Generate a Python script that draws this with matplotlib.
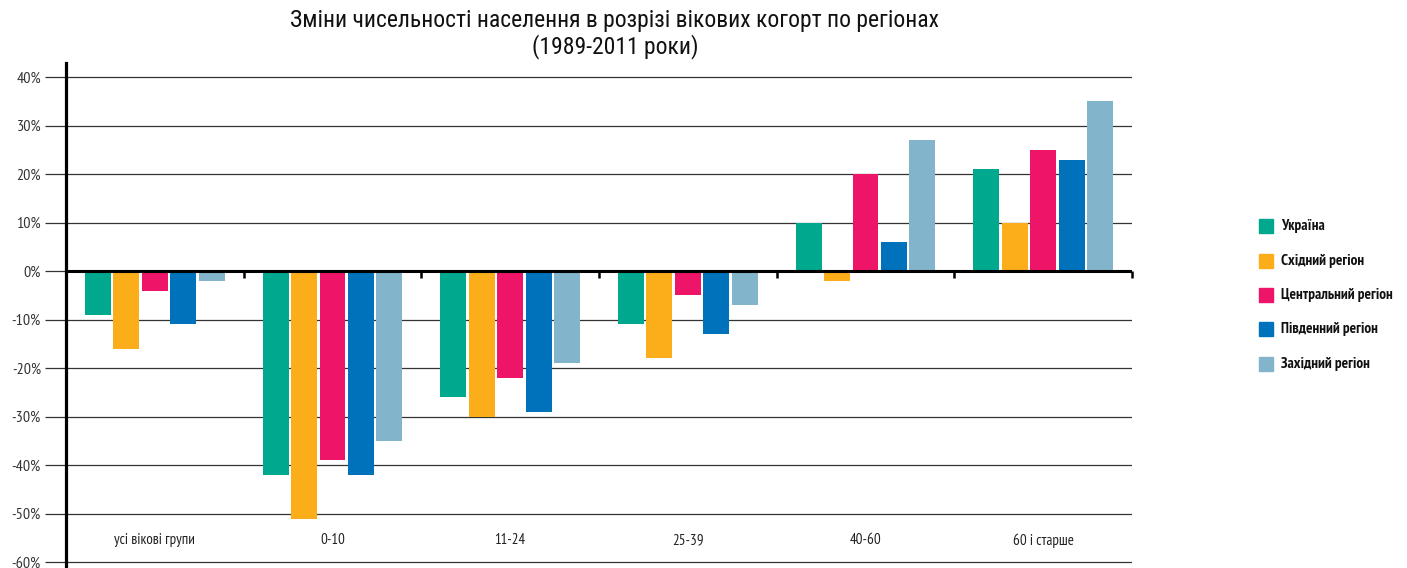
import matplotlib
matplotlib.use("Agg")
import matplotlib.pyplot as plt
from matplotlib.patches import Rectangle
import numpy as np

plt.rcParams['font.family'] = ['PT Sans Narrow', 'Roboto Condensed', 'Open Sans', 'DejaVu Sans']

categories = ['усі вікові групи', '0-10', '11-24', '25-39', '40-60', '60 і старше']
series = ['Україна', 'Східний регіон', 'Центральний регіон', 'Південний регіон', 'Західний регіон']
ukraine  = [-9, -42, -26, -11, 10, 21]
eastern  = [-16, -51, -30, -18, -2, 10]
central  = [-4, -39, -22, -5, 20, 25]
southern = [-11, -42, -29, -13, 6, 23]
western  = [-2, -35, -19, -7, 27, 35]
values = [ukraine, eastern, central, southern, western]
colors = ['#00A88E', '#FBAD1A', '#EE1467', '#0072BC', '#82B4CB']
yticks = [40, 30, 20, 10, 0, -10, -20, -30, -40, -50, -60]
ytick_labels = ['40%', '30%', '20%', '10%', '0%', '-10%', '-20%', '-30%', '-40%', '-50%', '-60%']

W, H = 1407, 568
fig = plt.figure(figsize=(W/100, H/100), dpi=100)
left, right, top, bottom = 66, 1132, 63, 568
ax = fig.add_axes([left/W, 1-bottom/H, (right-left)/W, (bottom-top)/H])

x = np.arange(len(categories)) + 0.5
step = 0.16
width = 0.146
for i, (vals, c) in enumerate(zip(values, colors)):
    ax.bar(x + (i-2)*step, vals, width=width, color=c, zorder=3, label=series[i])

ax.set_xlim(0, 6)
ax.set_ylim(-61.2, 42.9)
ax.set_yticks(yticks)
ax.set_yticklabels(ytick_labels)
ax.tick_params(axis='y', length=15, width=0.9, color='#333333', pad=3, labelsize=11.5, labelcolor='#333333')
ax.set_xticks([])
ax.grid(axis='y', color='#333333', lw=0.9, zorder=1)
for s in ['top', 'right', 'bottom']:
    ax.spines[s].set_visible(False)
ax.spines['left'].set_linewidth(2.3)
ax.spines['left'].set_color('black')
ax.spines['left'].set_zorder(5)
ax.axhline(0, color='black', lw=2.2, zorder=4)
ax.vlines(np.arange(1, 7), -1.5, 0, color='black', lw=1.8, zorder=4, clip_on=False)

for xi, cat in zip(x, categories):
    ax.text(xi, -55.5, cat, ha='center', va='center', fontsize=10.8, color='#222222')

title_fam = ['Roboto Condensed', 'PT Sans Narrow', 'DejaVu Sans']
fig.text(615/W, 1-20/H, 'Зміни чисельності населення в розрізі вікових когорт по регіонах',
         ha='center', va='center', fontsize=17, color='#111111', family=title_fam, fontweight='normal')
fig.text(615/W, 1-47/H, '(1989-2011 роки)', ha='center', va='center', fontsize=17, color='#111111',
         family=title_fam, fontweight='normal')

ly = [226, 261, 295, 329, 364]
for name, c, yy in zip(series, colors, ly):
    fig.patches.append(Rectangle((1259/W, 1-(yy+7)/H), 14/W, 14/H, transform=fig.transFigure,
                                 color=c, figure=fig))
    fig.text(1281/W, 1-yy/H, name, ha='left', va='center', fontsize=11, fontweight='bold', color='#111111')

fig.savefig('out.png', dpi=100)
